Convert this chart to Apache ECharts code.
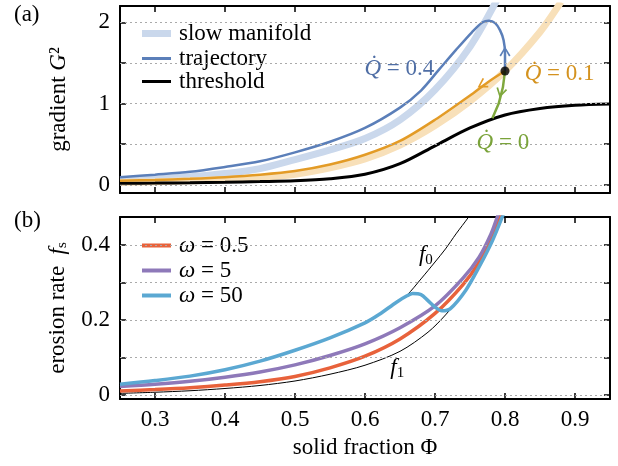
<!DOCTYPE html>
<html>
<head>
<meta charset="utf-8">
<script src="https://cdn.jsdelivr.net/npm/echarts@6/dist/echarts.min.js"></script>
<style>
  html, body { margin: 0; padding: 0; background: #fff; }
  #chart { width: 618px; height: 466px; }
</style>
</head>
<body>
<div id="chart"></div>
<script>
// ---- data: [Φ, value] ----
// panel (a): gradient G²
const manifoldSlow04 = [[0.25,0.06],[0.3,0.075],[0.35,0.1],[0.4,0.14],[0.45,0.2],[0.5,0.31],[0.55,0.43],[0.6,0.57],[0.65,0.8],[0.7,1.17],[0.75,1.7],[0.79,2.3]];
const manifoldSlow01 = [[0.25,0.03],[0.3,0.038],[0.35,0.05],[0.4,0.065],[0.45,0.09],[0.5,0.13],[0.55,0.21],[0.6,0.32],[0.65,0.49],[0.7,0.73],[0.75,1.03],[0.8,1.4],[0.85,1.88],[0.88,2.25]];
const thresholdG = [[0.25,0.02],[0.3,0.022],[0.35,0.026],[0.4,0.032],[0.45,0.04],[0.5,0.05],[0.55,0.075],[0.6,0.13],[0.65,0.26],[0.7,0.48],[0.75,0.7],[0.8,0.86],[0.85,0.94],[0.9,0.98],[0.95,0.995]];
const traj04 = [[0.25,0.094],[0.3,0.125],[0.35,0.16],[0.4,0.22],[0.45,0.29],[0.5,0.4],[0.55,0.53],[0.6,0.7],[0.65,0.95],[0.68,1.16],[0.706,1.42],[0.73,1.66],[0.753,1.88],[0.768,2.0],[0.777,2.02],[0.786,1.99],[0.793,1.9],[0.798,1.78],[0.8,1.615],[0.8,1.4]];
const traj01 = [[0.25,0.05],[0.3,0.06],[0.35,0.075],[0.4,0.095],[0.45,0.125],[0.5,0.17],[0.55,0.25],[0.6,0.37],[0.65,0.54],[0.7,0.8],[0.75,1.1],[0.775,1.26],[0.8,1.4]];
const traj00 = [[0.8,1.4],[0.797,1.2],[0.791,1.0],[0.782,0.82]];
const startPoint = [[0.8, 1.4]];

// panel (b): erosion rate f_s
const curveF0 = [[0.25,0.029],[0.3,0.039],[0.35,0.051],[0.4,0.068],[0.45,0.091],[0.5,0.12],[0.55,0.153],[0.6,0.193],[0.62,0.215],[0.645,0.248],[0.66,0.267],[0.68,0.31],[0.7,0.355],[0.715,0.39],[0.73,0.43],[0.748,0.475],[0.76,0.51]];
const curveF1 = [[0.25,0.005],[0.3,0.008],[0.35,0.012],[0.4,0.018],[0.45,0.026],[0.5,0.038],[0.55,0.056],[0.6,0.08],[0.65,0.117],[0.69,0.168],[0.715,0.214],[0.744,0.28],[0.763,0.342],[0.782,0.412],[0.796,0.475],[0.805,0.52]];
const omega05 = [[0.25,0.011],[0.3,0.015],[0.35,0.02],[0.4,0.027],[0.45,0.036],[0.5,0.05],[0.55,0.073],[0.6,0.104],[0.65,0.15],[0.7,0.218],[0.74,0.295],[0.763,0.355],[0.78,0.42],[0.793,0.475],[0.8,0.51]];
const omega5 = [[0.25,0.023],[0.3,0.029],[0.35,0.037],[0.4,0.048],[0.45,0.062],[0.5,0.081],[0.55,0.106],[0.6,0.137],[0.65,0.18],[0.7,0.238],[0.74,0.312],[0.763,0.368],[0.78,0.43],[0.789,0.475],[0.8,0.53]];
const omega50 = [[0.25,0.029],[0.3,0.039],[0.35,0.051],[0.4,0.068],[0.45,0.091],[0.5,0.12],[0.55,0.153],[0.6,0.193],[0.62,0.215],[0.645,0.248],[0.66,0.265],[0.668,0.271],[0.68,0.268],[0.69,0.252],[0.7,0.235],[0.71,0.225],[0.722,0.231],[0.744,0.28],[0.763,0.342],[0.782,0.412],[0.796,0.475],[0.805,0.52]];

// ticks
const xTicks = [0.3, 0.4, 0.5, 0.6, 0.7, 0.8, 0.9];
const gTicks = [0, 0.5, 1, 1.5, 2];
const gLabels = [0, 1, 2];
const fTicks = [0, 0.1, 0.2, 0.3, 0.4];
const fLabels = [0, 0.2, 0.4];

// annotations: [Φ, y]
const arrow04 = [0.8, 1.64];
const arrow01 = [0.767, 1.23];
const arrow00 = [0.794, 1.13];
const labelQ04 = [0.649, 1.43];
const labelQ01 = [0.878, 1.36];
const labelQ00 = [0.797, 0.515];
const labelF0 = [0.687, 0.373];
const labelF1 = [0.646, 0.072];

const FONT = 'Liberation Serif';
const FS = 23;
const chevron = 'path://M0,10 L6,0 L12,10 L10.4,11 L6,3.4 L1.6,11 Z';

const chart = echarts.init(document.getElementById('chart'));

// rich styles so every text run carries the serif font
function richSet(color) {
  const c = color ? { color: color } : {};
  return {
    n: Object.assign({ fontFamily: FONT, fontSize: FS }, c),
    i: Object.assign({ fontFamily: FONT, fontSize: FS, fontStyle: 'italic' }, c),
    s: Object.assign({ fontFamily: FONT, fontSize: 15, padding: [10, 0, 0, 0] }, c)
  };
}

function frameX(grid, pos, labels) {
  return {
    type: 'value', gridIndex: grid, position: pos, min: 0.25, max: 0.95,
    axisLine: { show: true, onZero: false, lineStyle: { color: '#000', width: 2 } },
    axisTick: { show: true, inside: true, length: 6, customValues: xTicks, lineStyle: { color: '#000', width: 1.5 } },
    axisLabel: labels ? { show: true, customValues: xTicks, formatter: v => '{n|' + v.toFixed(1) + '}', rich: richSet('#000'), color: '#000', fontFamily: FONT, fontSize: FS, margin: 9 } : { show: false },
    splitLine: { show: false }
  };
}
function frameY(grid, pos, min, max, ticks, labels, fmt) {
  return {
    type: 'value', gridIndex: grid, position: pos, min: min, max: max,
    axisLine: { show: true, onZero: false, lineStyle: { color: '#000', width: 2 } },
    axisTick: { show: true, inside: true, length: 6, customValues: ticks, lineStyle: { color: '#000', width: 1.5 } },
    axisLabel: labels ? { show: true, customValues: labels, formatter: v => '{n|' + fmt(v) + '}', rich: richSet('#000'), color: '#000', fontFamily: FONT, fontSize: FS, margin: 10 } : { show: false },
    splitLine: { show: false }
  };
}
function gridLines(vals) {
  return {
    silent: true, symbol: 'none', animation: false,
    label: { show: false },
    lineStyle: { color: '#aaa', type: [2, 3], width: 1 },
    data: vals.map(v => ({ yAxis: v }))
  };
}
function line(name, data, color, width, xi, yi, z, extra) {
  return Object.assign({
    name: name, type: 'line', data: data, xAxisIndex: xi, yAxisIndex: yi,
    showSymbol: false, symbol: 'none', smooth: 0.3, z: z,
    color: color, lineStyle: { color: color, width: width }
  }, extra || {});
}
function textMark(pos, text, color) {
  return {
    coord: pos, symbol: 'circle', symbolSize: 1, itemStyle: { color: 'rgba(0,0,0,0)' },
    label: { show: true, position: 'inside', formatter: text, color: color, fontFamily: FONT, fontSize: FS, rich: richSet(color) }
  };
}
function arrowMark(pos, rot, color) {
  return { coord: pos, symbol: chevron, symbolSize: [11, 10], symbolRotate: rot, itemStyle: { color: color }, label: { show: false } };
}
function legendBox(names, top, gap, h) {
  return {
    data: names, orient: 'vertical', left: 142, top: top, padding: 0, itemGap: gap,
    itemWidth: 29, itemHeight: h, icon: 'rect', selectedMode: false,
    formatter: n => (n[0] === 'ω' ? '{i|ω}{n|' + n.slice(1) + '}' : '{n|' + n + '}'),
    textStyle: { fontFamily: FONT, fontSize: FS, color: '#000', lineHeight: 22, padding: [0, 0, 0, 3], rich: richSet('#000') }
  };
}

const option = {
  animation: false,
  backgroundColor: '#fff',
  textStyle: { fontFamily: FONT },
  title: [
    { text: '{n|(a)}', left: 14, top: 3, padding: 0, textStyle: { fontFamily: FONT, fontSize: FS, fontWeight: 'normal', color: '#000', rich: richSet('#000') } },
    { text: '{n|(b)}', left: 14, top: 209, padding: 0, textStyle: { fontFamily: FONT, fontSize: FS, fontWeight: 'normal', color: '#000', rich: richSet('#000') } }
  ],
  grid: [
    { left: 120, top: 6, width: 490, height: 187 },
    { left: 120, top: 217, width: 490, height: 182 }
  ],
  legend: [
    legendBox(['slow manifold'], 22, 0, 7),
    legendBox(['trajectory', 'threshold'], 47, 0, 3),
    legendBox(['ω = 0.5', 'ω = 5', 'ω = 50'], 234, 2, 4)
  ],
  xAxis: [
    frameX(0, 'bottom', false),
    frameX(0, 'top', false),
    Object.assign(frameX(1, 'bottom', true), {
      name: '{n|solid fraction Φ}', nameLocation: 'middle', nameGap: 37,
      nameTextStyle: { color: '#000', rich: richSet('#000') }
    }),
    frameX(1, 'top', false)
  ],
  yAxis: [
    Object.assign(frameY(0, 'left', -0.1, 2.2, gTicks, gLabels, v => String(v)), {
      name: '{n|gradient }{i|G}{n|²}', nameLocation: 'middle', nameGap: 50,
      nameTextStyle: { color: '#000', rich: richSet('#000') }
    }),
    frameY(0, 'right', -0.1, 2.2, gTicks, null),
    Object.assign(frameY(1, 'left', -0.01, 0.475, fTicks, fLabels, v => (v === 0 ? '0' : v.toFixed(1))), {
      name: '{n|erosion rate  }{i|f}{s|s}', nameLocation: 'middle', nameGap: 50,
      nameTextStyle: { color: '#000', rich: richSet('#000') }
    }),
    frameY(1, 'right', -0.01, 0.475, fTicks, null)
  ],
  series: [
    // panel (a)
    { type: 'line', data: [], xAxisIndex: 0, yAxisIndex: 0, z: 1, markLine: gridLines(gTicks) },
    line('slow manifold', manifoldSlow04, '#cad8ec', 7, 0, 0, 2),
    line('slow manifold Q=0.1', manifoldSlow01, '#f8e0b9', 7, 0, 0, 2),
    line('threshold', thresholdG, '#000', 3, 0, 0, 3),
    line('trajectory', traj04, '#5b7fb9', 2.5, 0, 0, 4, {
      markPoint: { data: [arrowMark(arrow04, 0, '#5b7fb9'), textMark(labelQ04, '{i|Q\u0307}{n| = 0.4}', '#4f6ea5')] }
    }),
    line('trajectory Q=0.1', traj01, '#e39b26', 2.5, 0, 0, 4, {
      markPoint: { data: [arrowMark(arrow01, 121, '#e39b26'), textMark(labelQ01, '{i|Q\u0307}{n| = 0.1}', '#d4921e')] }
    }),
    line('trajectory Q=0', traj00, '#7fa83d', 2.5, 0, 0, 4, {
      smooth: false,
      markPoint: { data: [arrowMark(arrow00, 166, '#7fa83d'), textMark(labelQ00, '{i|Q\u0307}{n| = 0}', '#7aa33a')] }
    }),
    { name: 'start', type: 'scatter', data: startPoint, xAxisIndex: 0, yAxisIndex: 0, symbolSize: 9, itemStyle: { color: '#000' }, z: 6 },

    // panel (b)
    { type: 'line', data: [], xAxisIndex: 2, yAxisIndex: 2, z: 1, markLine: gridLines(fTicks) },
    line('f1', curveF1, '#000', 1, 2, 2, 2, { markPoint: { data: [textMark(labelF1, '{i|f}{s|1}', '#000')] } }),
    line('f0', curveF0, '#000', 1, 2, 2, 2, { markPoint: { data: [textMark(labelF0, '{i|f}{s|0}', '#000')] } }),
    line('ω = 0.5', omega05, '#e8623b', 3.5, 2, 2, 3),
    line('ω = 5', omega5, '#8e79b9', 3.5, 2, 2, 4),
    line('ω = 50', omega50, '#5ba8d2', 3.5, 2, 2, 5)
  ]
};

chart.setOption(option);
window.addEventListener('resize', () => chart.resize());
</script>
</body>
</html>
